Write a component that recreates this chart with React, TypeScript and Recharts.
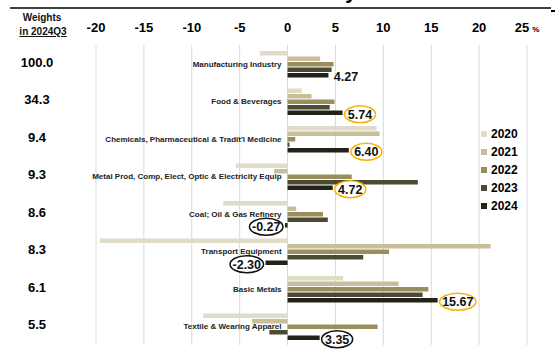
import { BarChart, Bar, XAxis, YAxis, CartesianGrid, Legend, LabelList } from 'recharts';

const FONT = '"Liberation Sans", Arial, sans-serif';

// Industry rows, top to bottom
const industries = [
  'Manufacturing Industry',
  'Food & Beverages',
  "Chemicals, Pharmaceutical & Tradit'l Medicine",
  'Metal Prod, Comp, Elect, Optic & Electricity Equip',
  'Coal; Oil & Gas Refinery',
  'Transport Equipment',
  'Basic Metals',
  'Textile & Wearing Apparel',
];
const weights = ['100.0', '34.3', '9.4', '9.3', '8.6', '8.3', '6.1', '5.5'];

// Annual growth, %
const growth2020 = [-2.9, 1.5, 9.3, -5.4, -6.7, -19.6, 5.8, -8.8];
const growth2021 = [3.4, 2.5, 9.6, -1.4, 0.9, 21.2, 11.6, -3.7];
const growth2022 = [4.8, 4.9, 0.8, 6.7, 3.7, 10.6, 14.7, 9.4];
const growth2023 = [4.6, 4.4, 0.2, 13.6, 4.2, 7.9, 14.1, -1.9];
const growth2024 = [4.27, 5.74, 6.4, 4.72, -0.27, -2.3, 15.67, 3.35];

const years = ['2020', '2021', '2022', '2023', '2024'];
const xTicks = [-20, -15, -10, -5, 0, 5, 10, 15, 20, 25];

const yearColors = ['#e0dcc6', '#c8bf9a', '#9a8f5c', '#4d4a32', '#22211a'];

// rows whose 2024 value gets a ring
const goldRinged = ['Food & Beverages', "Chemicals, Pharmaceutical & Tradit'l Medicine", 'Metal Prod, Comp, Elect, Optic & Electricity Equip', 'Basic Metals'];
const blackRinged = ['Coal; Oil & Gas Refinery', 'Transport Equipment', 'Textile & Wearing Apparel'];

const rows = industries.map((name, i) => ({
  name,
  weight: weights[i],
  y2020: growth2020[i],
  y2021: growth2021[i],
  y2022: growth2022[i],
  y2023: growth2023[i],
  y2024: growth2024[i],
}));

function TopTick(props: any) {
  const { x, y, payload } = props;
  return (
    <text x={x} y={y - 5} textAnchor="middle" fontFamily={FONT} fontWeight={700} fontSize={13} fill="#000">
      {payload.value}
      {payload.value === 25 && (
        <tspan dx={3} fontSize={8}>%</tspan>
      )}
    </text>
  );
}

function WeightTick(props: any) {
  const { y, payload } = props;
  const i = industries.indexOf(payload.value);
  return (
    <text x={37} y={y + 3} textAnchor="middle" fontFamily={FONT} fontWeight={700} fontSize={13} fill="#000">
      {weights[i]}
    </text>
  );
}

function IndustryName(props: any) {
  const { x, y, height, index } = props;
  return (
    <text x={x - 6} y={y + height / 2 + 2.5} textAnchor="end" fontFamily={FONT} fontWeight={700} fontSize={8} fill="#222">
      {industries[index]}
    </text>
  );
}

const charWidth = (c: string) => (c === '.' ? 0.278 : c === '-' ? 0.333 : 0.556);

function ValueTag(props: any) {
  const { x, y, width, height, value, index } = props;
  const v = Number(value);
  const edge = v < 0 ? Math.min(x, x + width) : Math.max(x, x + width);
  const text = v.toFixed(2);
  const textW = text.split('').reduce((s, c) => s + charWidth(c), 0) * 12.5;
  const rx = Math.max(15.5, textW / 2 + 2.5);
  const cx = edge + (v < 0 ? -(rx + 2) : rx + 2);
  const cy = y + height / 2 + 1.5;
  const name = industries[index];
  const ring = goldRinged.includes(name) ? '#f6b400' : blackRinged.includes(name) ? '#111' : null;
  return (
    <g>
      {ring && <ellipse cx={cx} cy={cy} rx={rx} ry={8.5} fill="#fff" stroke={ring} strokeWidth={1.5} />}
      <text x={cx} y={cy + 4.5} textAnchor="middle" fontFamily={FONT} fontWeight={700} fontSize={12.5} fill="#111">
        {text}
      </text>
    </g>
  );
}

function YearLegend() {
  return (
    <div style={{ fontFamily: FONT, fontWeight: 700, fontSize: 12, color: '#000' }}>
      {years.map((yr, i) => (
        <div key={yr} style={{ display: 'flex', alignItems: 'center', height: 18 }}>
          <span style={{ display: 'inline-block', width: 6, height: 6, background: yearColors[i], marginRight: 4 }} />
          {yr}
        </div>
      ))}
    </div>
  );
}

export default function App() {
  return (
    <div style={{ position: 'absolute', left: 0, top: 0, width: 555, height: 356, background: '#fff' }}>
      <BarChart
        width={555}
        height={356}
        data={rows}
        layout="vertical"
        margin={{ top: 25, right: 28, bottom: 11, left: 0 }}
        barSize={4.5}
        barGap={1}
      >
        <CartesianGrid horizontal={false} stroke="#d9d9d9" />
        <XAxis
          type="number"
          orientation="top"
          domain={[-20, 25]}
          ticks={xTicks}
          height={20}
          axisLine={false}
          tickLine={false}
          tick={<TopTick />}
        />
        <YAxis type="category" dataKey="name" width={96} axisLine={false} tickLine={false} tick={<WeightTick />} />
        <Legend
          layout="vertical"
          align="center"
          verticalAlign="middle"
          content={<YearLegend />}
          wrapperStyle={{ left: 481, top: 125, width: 60 }}
        />
        <Bar dataKey="y2020" name="2020" fill={yearColors[0]} isAnimationActive={false} />
        <Bar dataKey="y2021" name="2021" fill={yearColors[1]} isAnimationActive={false} />
        <Bar dataKey="y2022" name="2022" fill={yearColors[2]} isAnimationActive={false}>
          <LabelList dataKey="y2022" content={<IndustryName />} />
        </Bar>
        <Bar dataKey="y2023" name="2023" fill={yearColors[3]} isAnimationActive={false} />
        <Bar dataKey="y2024" name="2024" fill={yearColors[4]} isAnimationActive={false}>
          <LabelList dataKey="y2024" content={<ValueTag />} />
        </Bar>
      </BarChart>

      <svg width={555} height={356} style={{ position: 'absolute', left: 0, top: 0, pointerEvents: 'none' }}>
        <text x={345} y={-2} fontFamily={FONT} fontWeight={700} fontSize={22} fill="#000">y</text>
        <line x1={10} y1={8} x2={551} y2={8} stroke="#000" strokeWidth={1.5} />
        <line x1={551} y1={11} x2={557} y2={11} stroke="#000" strokeWidth={2} />
        <text x={42} y={21} textAnchor="middle" fontFamily={FONT} fontWeight={700} fontSize={10} fill="#111">Weights</text>
        <text x={43} y={35} textAnchor="middle" fontFamily={FONT} fontWeight={700} fontSize={10} fill="#111" textDecoration="underline">in 2024Q3</text>
      </svg>
    </div>
  );
}
